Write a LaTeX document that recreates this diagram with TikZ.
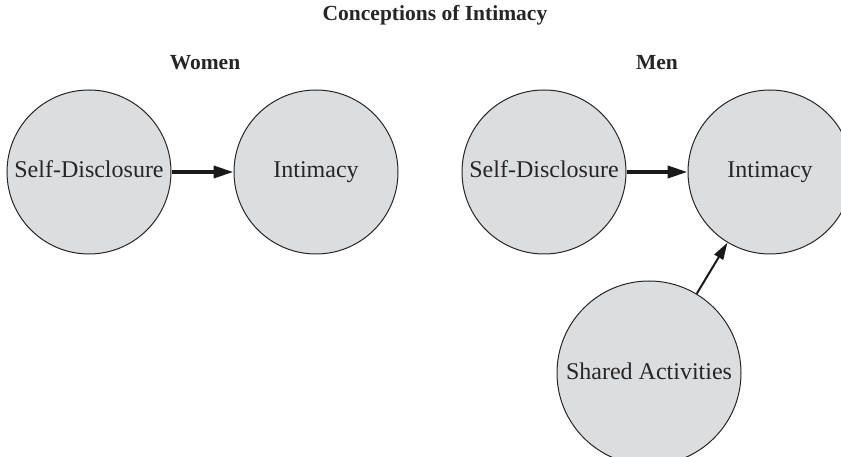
\documentclass[tikz,border=0pt]{standalone}
\usepackage{fontspec}
\setmainfont{Liberation Serif}
\usetikzlibrary{arrows.meta}
\definecolor{bubblegray}{HTML}{DCDDDF}
\begin{document}
\begin{tikzpicture}[x=1pt,y=-1pt,
  bubble/.style={circle, draw=black!85, line width=1pt, fill=bubblegray, minimum size=164pt, inner sep=0pt, font=\fontsize{24}{26}\selectfont, text=black!85, text height=15pt, text depth=3pt},
  bigbubble/.style={bubble, minimum size=184pt},
  heading/.style={font=\fontsize{21.5}{24}\selectfont\bfseries, text=black!85},
  thickarrow/.style={line width=3.8pt, black!90, -{Triangle[length=20pt,width=12pt]}},
  thinarrow/.style={line width=2pt, black!90, -{Triangle[length=17pt,width=10pt]}}]
\useasboundingbox (0,0) rectangle (841,457);
\clip (0,0) rectangle (841,457);
\node[heading] (title) at (435,15) {Conceptions of Intimacy};
\node[heading] (women) at (205,63) {Women};
\node[heading] (men) at (657,63) {Men};
\node[bubble] (wsd) at (89,172) {Self-Disclosure};
\node[bubble] (wi) at (316,172) {Intimacy};
\node[bubble] (msd) at (544,172) {Self-Disclosure};
\node[bubble] (mi) at (770,172) {Intimacy};
\node[bigbubble] (sa) at (649,373) {Shared Activities};
\draw[thickarrow] (wsd) -- (wi);
\draw[thickarrow] (msd) -- (mi);
\draw[thinarrow] (sa) -- (mi);
\end{tikzpicture}
\end{document}
